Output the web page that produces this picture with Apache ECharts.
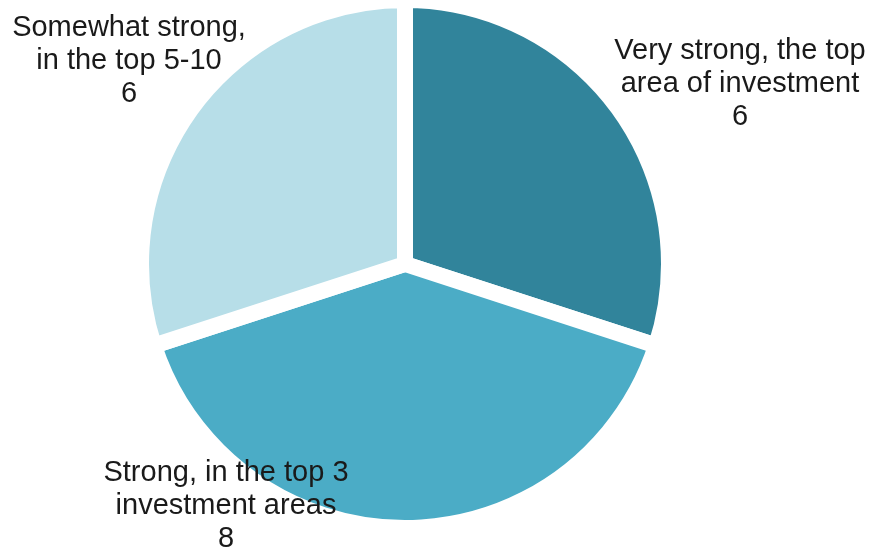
<!DOCTYPE html>
<html>
<head>
<meta charset="utf-8">
<script src="https://cdn.jsdelivr.net/npm/echarts@6/dist/echarts.min.js"></script>
<style>
  html, body { margin: 0; padding: 0; background: #ffffff; }
  #chart { width: 871px; height: 552px; }
</style>
</head>
<body>
<div id="chart"></div>
<script>
// Strength of investment priority: number of respondents per level
var categories = [
  'Very strong, the top\narea of investment',
  'Strong, in the top 3\ninvestment areas',
  'Somewhat strong,\nin the top 5-10'
];
var counts = [6, 8, 6];
var colors = ['#31849b', '#4bacc6', '#b7dee8'];

// Label block centres for each slice
var labelSpots = [[740, 84], [226, 506], [129, 61]];

var chart = echarts.init(document.getElementById('chart'));
chart.setOption({
  backgroundColor: '#ffffff',
  animation: false,
  series: [{
    type: 'pie',
    center: [405, 264],
    radius: 264,
    startAngle: 90,
    clockwise: true,
    data: categories.map(function (name, i) {
      return { name: name, value: counts[i], itemStyle: { color: colors[i] } };
    }),
    itemStyle: { borderColor: '#ffffff', borderWidth: 16 },
    label: {
      show: true,
      position: 'outside',
      formatter: '{b}\n{c}',
      fontFamily: 'Liberation Sans, Arial, sans-serif',
      fontSize: 29,
      lineHeight: 33,
      color: '#1a1a1a',
      align: 'center',
      overflow: 'none',
      width: 400
    },
    labelLine: { show: false },
    labelLayout: function (params) {
      var p = labelSpots[params.dataIndex];
      return { x: p[0], y: p[1], align: 'center', verticalAlign: 'middle' };
    },
    emphasis: { disabled: true }
  }]
});
</script>
</body>
</html>
